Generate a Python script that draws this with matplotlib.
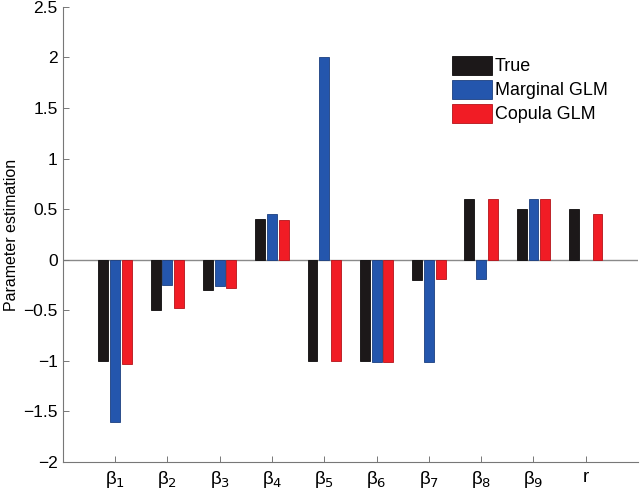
import matplotlib.pyplot as plt
import numpy as np

plt.rcParams['font.family'] = ['Liberation Sans', 'DejaVu Sans']

# ===============================
# Data
# ===============================
labels = ['β$_1$', 'β$_2$', 'β$_3$', 'β$_4$', 'β$_5$',
          'β$_6$', 'β$_7$', 'β$_8$', 'β$_9$', 'r']
true_vals = [-1.0, -0.5, -0.3, 0.4, -1.0, -1.0, -0.2, 0.6, 0.5, 0.5]
marginal_glm = [-1.6, -0.25, -0.26, 0.45, 2.0, -1.01, -1.01, -0.19, 0.6, np.nan]
copula_glm = [-1.03, -0.48, -0.28, 0.39, -1.0, -1.01, -0.19, 0.6, 0.6, 0.45]

series = [
    ("True", true_vals, "#1c1819", "#0d0b0c"),
    ("Marginal GLM", marginal_glm, "#2456ad", "#1b3f80"),
    ("Copula GLM", copula_glm, "#f11c25", "#b51219"),
]

# ===============================
# Plot
# ===============================
fig = plt.figure(figsize=(6.4, 4.9), dpi=100)
ax = fig.add_axes([0.098, 0.057, 0.899, 0.929])

x = np.arange(1, len(labels) + 1)
offset = 0.224
width = 0.19

for k, (name, vals, face, edge) in enumerate(series):
    ax.bar(x + (k - 1) * offset, vals, width, color=face, edgecolor=edge,
           linewidth=0.6, label=name, zorder=2)

ax.axhline(0, color="#8a8a8a", linewidth=1.0, zorder=1)

ax.set_xlim(0, 11)
ax.set_ylim(-2, 2.5)
ax.set_xticks(x)
ax.set_xticklabels(labels, fontsize=13.5)
ax.set_yticks(np.arange(-2, 2.51, 0.5))
ax.set_yticklabels(["−2", "−1.5", "−1", "−0.5", "0", "0.5", "1", "1.5", "2", "2.5"],
                   fontsize=12.5)
ax.set_ylabel("Parameter estimation", fontsize=11.5, labelpad=3)

for side in ["top", "right"]:
    ax.spines[side].set_visible(False)
for side in ["left", "bottom"]:
    ax.spines[side].set_color("#777777")
    ax.spines[side].set_linewidth(0.8)
ax.tick_params(direction="in", length=4, color="#777777", width=0.7)
ax.tick_params(axis="x", pad=5)

ax.legend(loc="upper left", bbox_to_anchor=(0.655, 0.92), frameon=False,
          fontsize=12.9, handlelength=2.2, handleheight=1.25,
          handletextpad=0.2, labelspacing=0.25, borderaxespad=0.3)

fig.savefig("out.png", dpi=100)
